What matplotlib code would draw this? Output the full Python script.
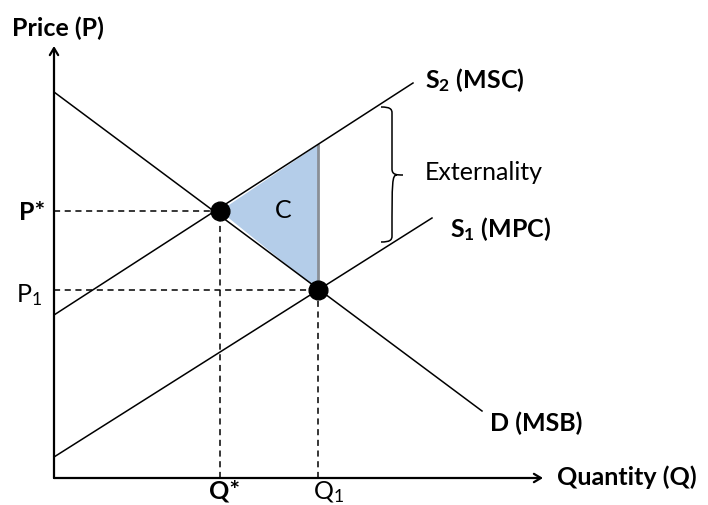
import matplotlib
matplotlib.use("Agg")
import matplotlib.pyplot as plt
from matplotlib.path import Path
from matplotlib.patches import PathPatch, Polygon

plt.rcParams["font.family"] = ["Lato", "DejaVu Sans"]
plt.rcParams["mathtext.fontset"] = "custom"
plt.rcParams["mathtext.rm"] = "Lato"
plt.rcParams["mathtext.bf"] = "Lato:bold"
plt.rcParams["mathtext.it"] = "Lato:italic"

# curves as (quantity, price) end points
demand_msb = [(0, 386), (428, 67)]
supply_msc = [(0, 163), (359, 395)]
supply_mpc = [(0, 21), (378, 260)]

# equilibria
q_star, p_star = 166, 267
q_one, p_one = 264, 188
p_msc_at_q1 = 333

axis_top = 432
axis_right = 489

fig = plt.figure(figsize=(7.08, 5.06), dpi=100)
ax = fig.add_axes([0, 0, 1, 1])
ax.set_xlim(-54, 654)
ax.set_ylim(-27, 479)
ax.axis("off")

# welfare loss triangle
tri = Polygon([(q_star, p_star), (q_one, p_msc_at_q1), (q_one, p_one)],
              closed=True, facecolor="#b4cde9", edgecolor="none", zorder=1)
ax.add_patch(tri)
ax.plot([q_one, q_one], [p_one, p_msc_at_q1], color="#8a8f96", lw=2, zorder=2)

for line in (demand_msb, supply_msc, supply_mpc):
    xs, ys = zip(*line)
    ax.plot(xs, ys, color="black", lw=1.1, zorder=3)

# dashed guides
dash = dict(color="black", lw=1.1, ls=(0, (4, 3)), zorder=2)
ax.plot([0, q_star], [p_star, p_star], **dash)
ax.plot([q_star, q_star], [0, p_star], **dash)
ax.plot([0, q_one], [p_one, p_one], **dash)
ax.plot([q_one, q_one], [0, p_one], **dash)

ax.plot([q_star, q_one], [p_star, p_one], "o", color="black", ms=13.5, zorder=5)

# axes with open arrow heads
arrow = dict(arrowstyle="->,head_length=0.5,head_width=0.3", color="black", lw=1.6,
             shrinkA=0, shrinkB=0)
ax.annotate("", xy=(0, axis_top), xytext=(0, 0), arrowprops=arrow)
ax.annotate("", xy=(axis_right, 0), xytext=(0, 0), arrowprops=arrow)

# externality brace
bx, btop, bbot, bmid = 338, 371, 236, 303
verts = [(bx - 11, btop), (bx - 2, btop), (bx, btop - 2), (bx, btop - 6),
         (bx, bmid + 6), (bx, bmid), (bx + 5, bmid), (bx + 11, bmid),
         (bx + 5, bmid), (bx, bmid), (bx, bmid - 6),
         (bx, bbot + 6), (bx, bbot + 2), (bx - 2, bbot), (bx - 11, bbot)]
codes = [Path.MOVETO, Path.CURVE4, Path.CURVE4, Path.CURVE4,
         Path.LINETO, Path.CURVE4, Path.CURVE4, Path.CURVE4,
         Path.MOVETO, Path.CURVE4, Path.CURVE4,
         Path.LINETO, Path.CURVE4, Path.CURVE4, Path.CURVE4]
ax.add_patch(PathPatch(Path(verts, codes), facecolor="none", edgecolor="black", lw=1.1))

fs = 18
ax.text(-42, 451, "Price (P)", fontsize=fs, fontweight="bold", va="center", ha="left")
ax.text(503, 2, "Quantity (Q)", fontsize=fs, fontweight="bold", va="center", ha="left")
ax.text(-9, 267, "P*", fontsize=fs, fontweight="bold", va="center", ha="right")
ax.text(-12, 177, r"P$_1$", fontsize=fs, va="baseline", ha="right")
ax.text(q_star + 5, -20, "Q*", fontsize=fs, fontweight="bold", va="baseline", ha="center")
ax.text(259, -20, r"Q$_1$", fontsize=fs, va="baseline", ha="left")
ax.text(229, 269, "C", fontsize=fs, va="center", ha="center")
ax.text(371, 391, r"S$_\mathbf{2}$ (MSC)", fontsize=fs, fontweight="bold", va="baseline", ha="left")
ax.text(371, 306, "Externality", fontsize=fs, va="center", ha="left")
ax.text(396, 242, r"S$_\mathbf{1}$ (MPC)", fontsize=fs, fontweight="bold", va="baseline", ha="left")
ax.text(436, 56, "D (MSB)", fontsize=fs, fontweight="bold", va="center", ha="left")

fig.savefig("out.png", dpi=100)
